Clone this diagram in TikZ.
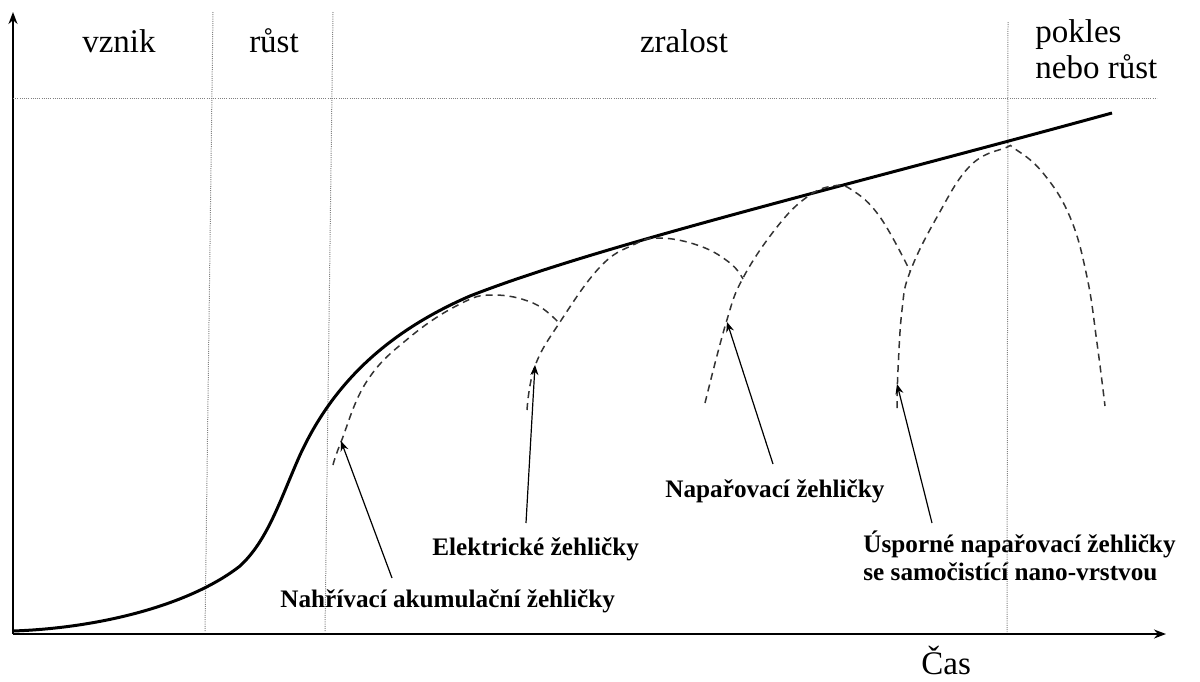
\documentclass[tikz,border=0pt]{standalone}
\usepackage{fontspec}
\setmainfont{Liberation Serif}
\usetikzlibrary{arrows.meta}
\begin{document}
\begin{tikzpicture}[x=0.5pt,y=-0.5pt,
 axis/.style={line width=0.9pt,-{Stealth[length=6pt,width=4.5pt]}},
 guide/.style={black!50,line width=0.5pt,dash pattern=on 0.5pt off 0.6pt},
 life/.style={line width=1.5pt},
 product/.style={line width=0.75pt,dash pattern=on 3.5pt off 2.5pt,black!80},
 pointer/.style={line width=0.6pt,-{Stealth[length=5pt,width=4pt]}},
 phase/.style={font=\fontsize{16.5}{18}\selectfont,inner sep=0pt,anchor=base},
 phasel/.style={font=\fontsize{16.5}{18}\selectfont,inner sep=0pt,anchor=base west},
 prod/.style={font=\bfseries\fontsize{12.6}{14}\selectfont,inner sep=0pt,anchor=base west}]
\useasboundingbox (0,0) rectangle (1200,681);

% axes
\coordinate (O) at (13,634);
\coordinate (ytop) at (13,12);
\coordinate (xend) at (1166,634);
\draw[axis] (O) -- (ytop);
\draw[axis] (O) -- (xend);

% guide lines
\coordinate (hl) at (13,98);
\coordinate (hr) at (1157,98);
\draw[guide] (hl) -- (hr);
\coordinate (d1t) at (213,12);
\coordinate (d1b) at (205,632);
\coordinate (d2t) at (333,12);
\coordinate (d2b) at (325,632);
\coordinate (d3t) at (1008,22);
\coordinate (d3b) at (1007,632);
\draw[guide] (d1t) -- (d1b);
\draw[guide] (d2t) -- (d2b);
\draw[guide] (d3t) -- (d3b);

% phase labels
\node[phase] (vznik) at (119,52) {vznik};
\node[phase] (rust) at (274,52) {růst};
\node[phase] (zralost) at (684,52) {zralost};
\node[phasel] (pokles) at (1035,42) {pokles};
\node[phasel] (nebo) at (1035,78) {nebo růst};
\node[phasel] (cas) at (921,674) {Čas};

% life cycle curve
\draw[life] (13,631) .. controls (100,628) and (190,605) .. (240,566)
 .. controls (268,540) and (280,500) .. (300,455)
 .. controls (330,390) and (380,335) .. (470,296)
 .. controls (600,245) and (850,185) .. (1112,113);

% product curves
\draw[product] plot[smooth,tension=0.7] coordinates {
 (333,465) (341,442) (367,381) (410,337) (460,304) (493,295) (533,303) (558,322)};
\draw[product] plot[smooth,tension=0.7] coordinates {
 (527,410) (535,366) (560,322) (600,267) (633,245) (660,238) (700,246) (730,263) (743,279)};
\draw[product] plot[smooth,tension=0.7] coordinates {
 (705,403) (726,323) (743,278) (777,227) (807,197) (833,186) (852,190) (880,217) (910,271)};
\draw[product] plot[smooth,tension=0.7] coordinates {
 (897,408) (898,370) (902,310) (910,272) (937,217) (970,166) (1005,148) (1015,149)
 (1043,173) (1070,217) (1087,277) (1097,343) (1105,406)};

% product labels
\node[prod] (nahr) at (280,607) {Nahřívací akumulační žehličky};
\node[prod] (elek) at (432,555) {Elektrické žehličky};
\node[prod] (napa) at (665,497) {Napařovací žehličky};
\node[prod] (uspo) at (863,552) {Úsporné napařovací žehličky};
\node[prod] (samo) at (863,580) {se samočistící nano-vrstvou};

% pointers
\coordinate (p1s) at (392,578);
\coordinate (p1t) at (341,441);
\coordinate (p2s) at (526,523);
\coordinate (p2t) at (535,365);
\coordinate (p3s) at (773,464);
\coordinate (p3t) at (727,322);
\coordinate (p4s) at (932,523);
\coordinate (p4t) at (897,384);
\draw[pointer] (p1s) -- (p1t);
\draw[pointer] (p2s) -- (p2t);
\draw[pointer] (p3s) -- (p3t);
\draw[pointer] (p4s) -- (p4t);
\end{tikzpicture}
\end{document}
